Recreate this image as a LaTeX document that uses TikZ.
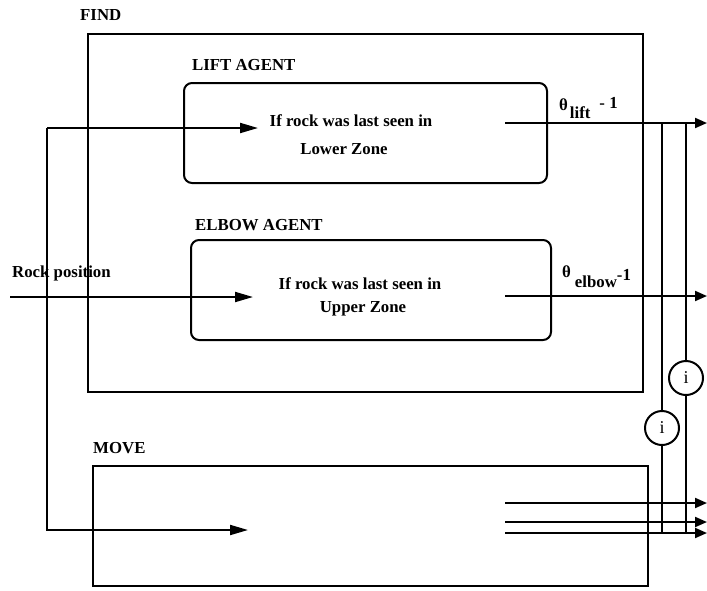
\documentclass[tikz,border=0pt]{standalone}
\usepackage{fontspec}
\setmainfont{Liberation Serif}
\usetikzlibrary{arrows.meta}
\begin{document}
\begin{tikzpicture}[x=1pt,y=-1pt]
\tikzset{
  frame/.style={draw, line width=2pt, inner sep=0pt},
  agentbox/.style={frame, rounded corners=8pt},
  lbl/.style={font=\fontsize{16.8}{20}\selectfont\bfseries, inner sep=0pt, anchor=base west},
  body/.style={font=\fontsize{16.8}{20}\selectfont\bfseries, inner sep=0pt, anchor=base},
  wire/.style={line width=2pt},
  bigarrow/.style={wire, -{Triangle[length=18pt,width=10pt]}},
  smallarrow/.style={wire, -{Triangle[length=12pt,width=10pt]}},
  junction/.style={circle, draw, line width=2pt, fill=white, minimum size=34pt, inner sep=0pt, font=\fontsize{18}{20}\selectfont}
}
\useasboundingbox (0,0) rectangle (707,590);

% boxes
\node[frame, minimum width=555pt, minimum height=358pt] (find) at (365.5,213) {};
\node[frame, minimum width=555pt, minimum height=120pt] (move) at (370.5,526) {};
\node[agentbox, minimum width=363pt, minimum height=100pt] (lift) at (365.5,133) {};
\node[agentbox, minimum width=360pt, minimum height=100pt] (elbow) at (371,290) {};

% headings
\node[lbl] (findlbl) at (80,20) {FIND};
\node[lbl] (liftlbl) at (192,70) {LIFT AGENT};
\node[lbl] (elbowlbl) at (195,230) {ELBOW AGENT};
\node[lbl] (movelbl) at (93,453) {MOVE};
\node[lbl] (rocklbl) at (12,277) {Rock position};

% box texts
\node[body] (lt1) at (351,126) {If rock was last seen in};
\node[body] (lt2) at (344,154) {Lower Zone};
\node[body] (et1) at (360,289) {If rock was last seen in};
\node[body] (et2) at (363,312) {Upper Zone};

% theta labels
\node[lbl] (thlift) at (559,110) {θ\hspace{2pt}\raisebox{-8pt}{lift}\hspace{9pt}\raisebox{2pt}{- 1}};
\node[lbl] (thelbow) at (562,277) {θ\hspace{4pt}\raisebox{-10pt}{elbow}\raisebox{-3pt}{-1}};

% coordinates
\coordinate (rockin) at (10,297);
\coordinate (rocktip) at (253,297);
\coordinate (bustop) at (47,128);
\coordinate (busbot) at (47,530);
\coordinate (lifttip) at (258,128);
\coordinate (movetip) at (248,530);
\coordinate (liftout) at (505,123);
\coordinate (liftend) at (707,123);
\coordinate (elbowout) at (505,296);
\coordinate (elbowend) at (707,296);
\coordinate (mo1) at (505,503);
\coordinate (mo1e) at (707,503);
\coordinate (mo2) at (505,522);
\coordinate (mo2e) at (707,522);
\coordinate (mo3) at (505,533);
\coordinate (mo3e) at (707,533);
\coordinate (va) at (662,123);
\coordinate (vab) at (662,533);
\coordinate (vb) at (686,123);
\coordinate (vbb) at (686,533);

% connectors
\draw[bigarrow] (rockin) -- (rocktip);
\draw[bigarrow] (bustop) -- (lifttip);
\draw[bigarrow] (bustop) -- (busbot) -- (movetip);
\draw[smallarrow] (liftout) -- (liftend);
\draw[smallarrow] (elbowout) -- (elbowend);
\draw[smallarrow] (mo1) -- (mo1e);
\draw[smallarrow] (mo2) -- (mo2e);
\draw[smallarrow] (mo3) -- (mo3e);

\node[junction] (ib) at (686,378) {i};
\node[junction] (ia) at (662,428) {i};
\draw[wire] (va) -- (ia);
\draw[wire] (ia) -- (vab);
\draw[wire] (vb) -- (ib);
\draw[wire] (ib) -- (vbb);
\end{tikzpicture}
\end{document}
